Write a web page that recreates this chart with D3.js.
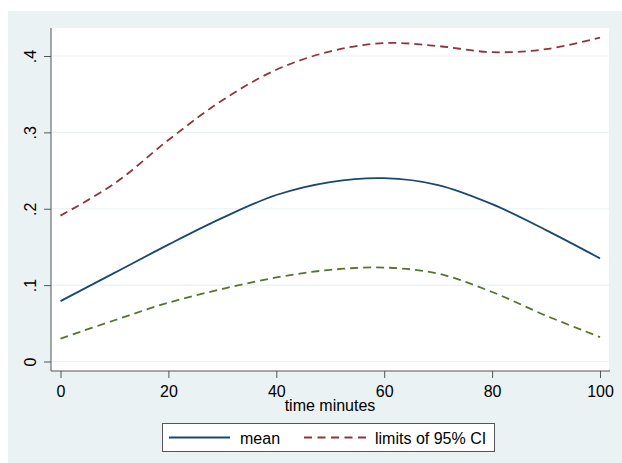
<!DOCTYPE html>
<html>
<head>
<meta charset="utf-8">
<script src="https://cdn.jsdelivr.net/npm/d3@7"></script>
<style>
  body { margin: 0; background: #fff; }
  svg { display: block; font-family: "Liberation Sans", Arial, sans-serif; }
</style>
</head>
<body>
<svg id="chart" width="622" height="463"></svg>
<script>
// values, every 10 minutes
const minutes = [0, 10, 20, 30, 40, 50, 60, 70, 80, 90, 100];
const meanVals = [0.079, 0.116, 0.153, 0.188, 0.218, 0.235, 0.240, 0.231, 0.206, 0.172, 0.135];
const upperVals = [0.191, 0.233, 0.290, 0.342, 0.382, 0.406, 0.417, 0.413, 0.405, 0.409, 0.424];
const lowerVals = [0.030, 0.054, 0.077, 0.095, 0.110, 0.120, 0.123, 0.115, 0.091, 0.060, 0.032];
const xTicks = [0, 20, 40, 60, 80, 100];
const yTicks = [0, 0.1, 0.2, 0.3, 0.4];
const yTickLabels = ["0", ".1", ".2", ".3", ".4"];

const navy = "#1a476f", maroon = "#90353b", green = "#55752f";

const svg = d3.select("#chart");

// outer graph region
svg.append("rect").attr("x", 8).attr("y", 11).attr("width", 614).attr("height", 452)
  .attr("fill", "#eaf2f3");

const plot = { left: 51, right: 609, top: 28, bottom: 371 };
svg.append("rect").attr("x", plot.left).attr("y", plot.top)
  .attr("width", plot.right - plot.left).attr("height", plot.bottom - plot.top)
  .attr("fill", "#fff");

const x = d3.scaleLinear().domain([0, 100]).range([60.5, 600]);
const y = d3.scaleLinear().domain([0, 0.4]).range([361.5, 56]);

// gridlines
svg.append("g").selectAll("line").data(yTicks).join("line")
  .attr("x1", plot.left).attr("x2", plot.right)
  .attr("y1", d => y(d)).attr("y2", d => y(d))
  .attr("stroke", "#eaf2f3").attr("stroke-width", 1.2);

// y axis
const yAxis = svg.append("g").attr("transform", `translate(${plot.left},0)`)
  .call(d3.axisLeft(y).tickValues(yTicks).tickSize(7).tickFormat((d, i) => yTickLabels[i]));
yAxis.select(".domain").attr("d", `M0,${plot.top}V${plot.bottom}`).attr("stroke", "#555");
yAxis.selectAll(".tick line").attr("stroke", "#555");
yAxis.selectAll(".tick text")
  .attr("transform", "translate(-15,0) rotate(-90)")
  .attr("x", 0).attr("y", 0).attr("dy", 0)
  .attr("text-anchor", "middle")
  .attr("font-size", 16).attr("fill", "#000")
  .attr("font-family", "Liberation Sans, Arial, sans-serif");

// x axis
const xAxis = svg.append("g").attr("transform", `translate(0,${plot.bottom})`)
  .call(d3.axisBottom(x).tickValues(xTicks).tickSize(7).tickFormat(d3.format("d")));
xAxis.select(".domain").attr("d", `M${plot.left},0H${plot.right + 1}`).attr("stroke", "#555");
xAxis.selectAll(".tick line").attr("stroke", "#555");
xAxis.selectAll(".tick text")
  .attr("y", 26).attr("dy", 0)
  .attr("font-size", 16).attr("fill", "#000")
  .attr("font-family", "Liberation Sans, Arial, sans-serif");

svg.append("text").attr("x", (plot.left + plot.right) / 2).attr("y", 411)
  .attr("text-anchor", "middle").attr("font-size", 16).text("time minutes");

// lines
const line = vals => d3.line()
  .x((d, i) => x(minutes[i]))
  .y((d) => y(d))
  .curve(d3.curveCatmullRom.alpha(0.5))(vals);

svg.append("path").attr("d", line(upperVals)).attr("fill", "none")
  .attr("stroke", maroon).attr("stroke-width", 1.8).attr("stroke-dasharray", "8,5");
svg.append("path").attr("d", line(lowerVals)).attr("fill", "none")
  .attr("stroke", green).attr("stroke-width", 1.8).attr("stroke-dasharray", "8,5");
svg.append("path").attr("d", line(meanVals)).attr("fill", "none")
  .attr("stroke", navy).attr("stroke-width", 1.8);

// legend
const lg = svg.append("g");
lg.append("rect").attr("x", 162.5).attr("y", 423.5).attr("width", 332).attr("height", 28)
  .attr("fill", "#fff").attr("stroke", "#555");
lg.append("line").attr("x1", 169).attr("x2", 230).attr("y1", 437.5).attr("y2", 437.5)
  .attr("stroke", navy).attr("stroke-width", 1.8);
lg.append("text").attr("x", 240).attr("y", 443.5).attr("font-size", 16).text("mean");
lg.append("line").attr("x1", 304).attr("x2", 366).attr("y1", 437.5).attr("y2", 437.5)
  .attr("stroke", maroon).attr("stroke-width", 1.8).attr("stroke-dasharray", "8,5.5");
lg.append("text").attr("x", 375).attr("y", 443.5).attr("font-size", 16).text("limits of 95% CI");
</script>
</body>
</html>
